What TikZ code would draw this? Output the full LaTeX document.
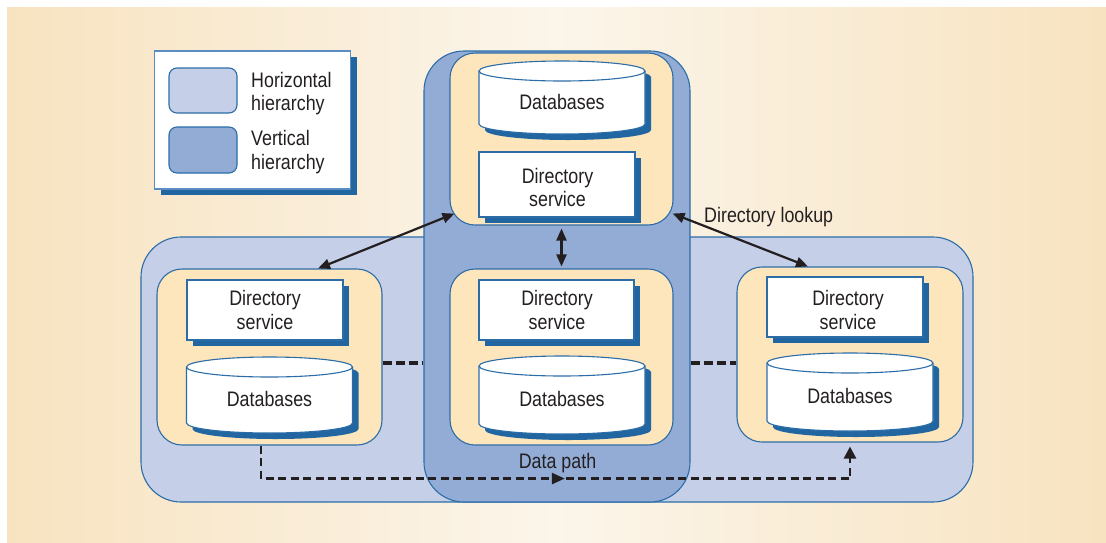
\documentclass[tikz,border=0pt]{standalone}
\usepackage{fontspec}
\setmainfont{Liberation Sans}[FakeStretch=0.85]
\usetikzlibrary{arrows.meta,shadows,decorations.markings}

\definecolor{bgEdge}{HTML}{F8E3C0}
\definecolor{bgMid}{HTML}{FBF5EA}
\definecolor{hfill}{HTML}{C5CFE8}
\definecolor{vfill}{HTML}{93ACD6}
\definecolor{frame}{HTML}{2C6DA8}
\definecolor{legframe}{HTML}{5A8DC2}
\definecolor{tan}{HTML}{FDE5BC}
\definecolor{shadowblue}{HTML}{2166A1}
\definecolor{ink}{HTML}{231F20}

\tikzset{
  txt/.style={font=\fontsize{21}{23.5}\selectfont, text=ink, align=center, inner sep=0pt,
    text depth=0pt},
  hierbox/.style={draw=frame, line width=1.1pt, rounded corners=40pt, inner sep=0pt},
  sitebox/.style={draw=frame, fill=tan, line width=1.1pt, rounded corners=25pt, inner sep=0pt},
  dirbox/.style={draw=frame, fill=white, line width=1.1pt, inner sep=0pt,
    drop shadow={shadow xshift=6pt, shadow yshift=-6pt, fill=shadowblue, opacity=1}},
  swatch/.style={draw=frame, line width=1.1pt, rounded corners=8pt,
    minimum width=68pt, inner sep=0pt},
  lookup/.style={draw=ink, line width=2.2pt,
    {Triangle[length=12pt,width=10pt]}-{Triangle[length=12pt,width=10pt]}},
  sidedash/.style={draw=ink, line width=4.2pt, dash pattern=on 9pt off 4pt},
  datapath/.style={draw=ink, line width=2.5pt, dash pattern=on 8pt off 4.5pt,
    -{Triangle[length=12pt,width=12pt]},
    postaction={decorate},
    decoration={markings, mark=at position 0.515 with
      {\arrow{Triangle[length=13pt,width=11pt]}}}},
  pics/dbcyl/.style={code={
    \fill[shadowblue] (-77,-6) -- (-77,-#1-6)
      arc[start angle=180, end angle=360, x radius=83, y radius=10] -- (89,-6)
      arc[start angle=0, end angle=180, x radius=83, y radius=10] -- cycle;
    \filldraw[fill=white, draw=frame, line width=1.1pt] (-83,0) -- (-83,-#1)
      arc[start angle=180, end angle=360, x radius=83, y radius=10] -- (83,0)
      arc[start angle=0, end angle=180, x radius=83, y radius=10] -- cycle;
    \draw[frame, line width=1.1pt] (-83,0)
      arc[start angle=180, end angle=360, x radius=83, y radius=10];
    \node[txt] (-label) at (0,{-#1/2-4}) {Databases};
  }}
}

\begin{document}
\begin{tikzpicture}[x=1pt, y=1pt]
\useasboundingbox (0,0) rectangle (1106,-542);
\fill[white] (0,0) rectangle (1106,-542);
\shade[left color=bgEdge, right color=bgEdge, middle color=bgMid]
  (7,-7) rectangle (1106,-542);

% legend
\node[draw=legframe, fill=white, line width=1.4pt, minimum width=196pt, minimum height=138pt,
  inner sep=0pt, drop shadow={shadow xshift=6pt, shadow yshift=-6pt, fill=shadowblue, opacity=1}]
  (legend) at (252.5,-120) {};
\node[swatch, fill=hfill, minimum height=45pt] (swH) at (203,-90.5) {};
\node[swatch, fill=vfill, minimum height=46pt] (swV) at (203,-150) {};
\node[txt, anchor=west, align=left] (legH) at (251,-91.5) {Horizontal\\hierarchy};
\node[txt, anchor=west, align=left] (legV) at (251,-150) {Vertical\\hierarchy};

% hierarchies
\node[hierbox, fill=hfill, minimum width=832pt, minimum height=265pt] (hh) at (557,-369.5) {};
\node[hierbox, fill=vfill, minimum width=266pt, minimum height=451pt] (vv) at (557,-276.5) {};

% sites
\node[sitebox, minimum width=223pt, minimum height=172pt] (topin) at (561.5,-139) {};
\node[sitebox, minimum width=223pt, minimum height=176pt] (midin) at (561.5,-357) {};
\node[sitebox, minimum width=225pt, minimum height=176pt] (leftin) at (269.5,-357) {};
\node[sitebox, minimum width=226pt, minimum height=175pt] (rightin) at (850,-354.5) {};

% site contents: databases and directory service of each site
\pic (dbTop) at (562,-71) {dbcyl=53};
\node[dirbox, minimum width=156pt, minimum height=65pt] (dsTop) at (557,-184.5) {};
\node[txt] (dsTopLbl) at (557.5,-187.5) {Directory\\service};

\node[dirbox, minimum width=155pt, minimum height=60pt] (dsMid) at (556.5,-310) {};
\node[txt] (dsMidLbl) at (557,-310) {Directory\\service};
\pic (dbMid) at (562,-366) {dbcyl=58};

\node[dirbox, minimum width=156pt, minimum height=60pt] (dsLeft) at (265,-310) {};
\node[txt] (dsLeftLbl) at (265,-310) {Directory\\service};
\pic (dbLeft) at (269.5,-367) {dbcyl=56};

\node[dirbox, minimum width=156pt, minimum height=60pt] (dsRight) at (845,-307) {};
\node[txt] (dsRightLbl) at (848,-310) {Directory\\service};
\pic (dbRight) at (850,-363) {dbcyl=58};

% horizontal links between sites
\coordinate (sideL) at ([yshift=-6pt]leftin.east);
\draw[sidedash] (sideL) -- (sideL -| vv.west);
\draw[sidedash] (sideL -| vv.east) -- (sideL -| rightin.west);

% directory lookups
\draw[lookup] ([xshift=5pt,yshift=12pt]topin.south west) -- ([xshift=48.5pt]leftin.north);
\draw[lookup] ([xshift=-1pt,yshift=12pt]topin.south east) -- ([xshift=-42pt]rightin.north);
\draw[lookup, shorten <=3pt, shorten >=2pt] (topin.south) -- (midin.north);
\node[txt, anchor=west] (lookupLbl) at (704,-215) {Directory lookup};

% data path
\draw[datapath] ([xshift=-8.5pt]leftin.south) |- ([yshift=-36pt]rightin.south)
  -- ([yshift=-4pt]rightin.south);
\node[txt] (dataLbl) at (557.5,-460.5) {Data path};
\end{tikzpicture}
\end{document}
